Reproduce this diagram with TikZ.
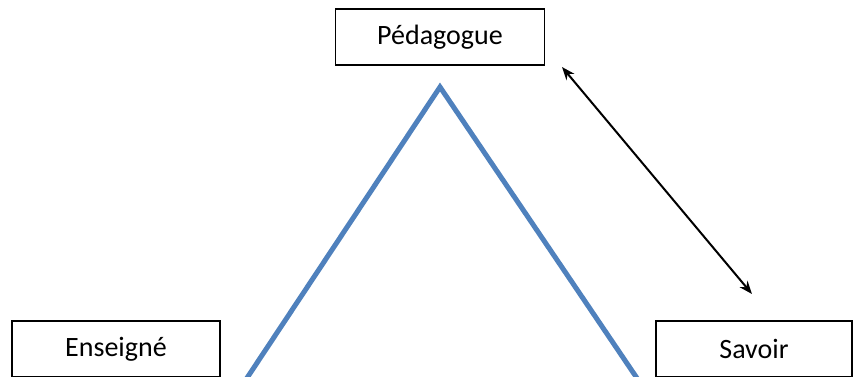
\documentclass[tikz,border=0pt]{standalone}
\usepackage{fontspec}
\setmainfont{Carlito}
\usetikzlibrary{positioning, arrows.meta}

\begin{document}
\begin{tikzpicture}[x=1pt, y=-1pt,
  box/.style={draw, line width=1.3pt, minimum height=56pt, inner sep=0pt,
    font=\fontsize{28}{34}\selectfont},
  link/.style={{Stealth[length=13pt, width=10pt]}-{Stealth[length=13pt, width=10pt]}, line width=2pt}]

% Define colors
\definecolor{triblue}{RGB}{79, 129, 189}

% Frame of the picture
\clip (0, 0) rectangle (854, 376);
\fill[white] (0, 0) rectangle (854, 376);

% Draw the boxes
\node[box, minimum width=209pt] (ped) at (440, 37) {Pédagogue};
\node[box, minimum width=208pt] (ens) at (116, 349) {Enseigné};
\node[box, minimum width=196pt] (sav) at (754, 349) {Savoir};

% Draw the triangle
\coordinate (top) at (440, 87);
\coordinate (left) at (239, 390);
\coordinate (right) at (645, 390);
\draw[triblue, line width=5pt] (left) -- (top) -- (right) -- cycle;

% Arrow between Pédagogue and Savoir
\coordinate (a1) at (562, 67);
\coordinate (a2) at (752, 294);
\draw[link] (a1) -- (a2);

\end{tikzpicture}
\end{document}
